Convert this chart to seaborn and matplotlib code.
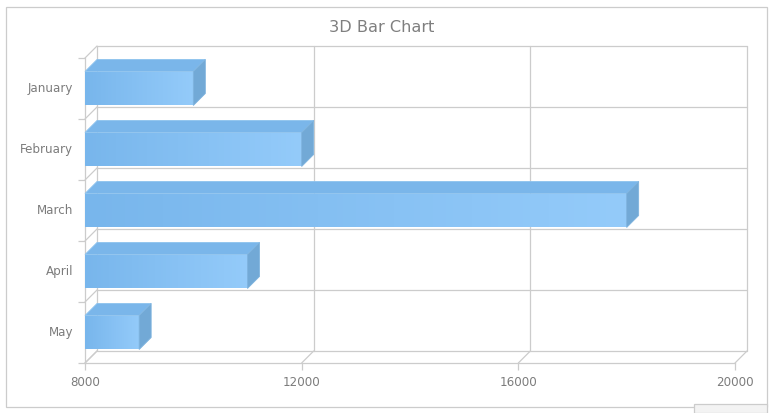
import matplotlib
matplotlib.use('Agg')
import matplotlib.pyplot as plt
from matplotlib.colors import LinearSegmentedColormap
from matplotlib.patches import Polygon, Rectangle
from matplotlib.transforms import offset_copy
import numpy as np
import pandas as pd
import seaborn as sns

months = ['January', 'February', 'March', 'April', 'May']
values = [10000, 12000, 18000, 11000, 9000]
x_ticks = [8000, 12000, 16000, 20000]

W, H = 773, 413
LINE = '#cccccc'
TEXT = '#7c7c7c'

sns.set_style('white')
plt.rcParams['font.family'] = ['DejaVu Sans']

fig = plt.figure(figsize=(W / 100, H / 100), dpi=100)
fig.patch.set_facecolor('white')

# outer frame and the small grey box sticking in at the bottom right
fig.add_artist(Rectangle((5.5 / W, 1 - 407 / H), 761.5 / W, 400.5 / H, transform=fig.transFigure,
                         facecolor='white', edgecolor=LINE, lw=0.9, zorder=-2))
fig.add_artist(Rectangle((694 / W, 0), 73 / W, 9 / H, transform=fig.transFigure,
                         facecolor='#f3f3f3', edgecolor=LINE, lw=0.9, zorder=-1))

ax = fig.add_axes([85 / W, 1 - 363 / H, 650 / W, 305 / H])
ax.patch.set_alpha(0)

df = pd.DataFrame({'month': months, 'value': values})
sns.barplot(data=df, x='value', y='month', orient='h', width=0.557, color='#85c0f2',
            saturation=1, ax=ax, zorder=3)

xmin, xmax = x_ticks[0], x_ticks[-1]
ax.set_xlim(xmin, xmax)
ax.set_ylim(len(months) - 0.5, -0.5)
ax.set_xlabel('')
ax.set_ylabel('')

# depth of the fake 3d box, 12 px each way, in data units
dx = 12 / 650 * (xmax - xmin)
dy = 12 / 61
back = offset_copy(ax.transData, fig=fig, x=12, y=12, units='dots')

# back wall and the diagonals on the floor and left wall
edges = np.arange(len(months) + 1) - 0.5
for y in edges:
    ax.plot([xmin, xmax], [y, y], color=LINE, lw=0.9, transform=back, clip_on=False, zorder=1)
    ax.plot([xmin, xmin + dx], [y, y - dy], color=LINE, lw=0.9, clip_on=False, zorder=1)
for x in x_ticks:
    ax.plot([x, x], [edges[0], edges[-1]], color=LINE, lw=0.9, transform=back, clip_on=False, zorder=1)
    ax.plot([x, x + dx], [edges[-1], edges[-1] - dy], color=LINE, lw=0.9, clip_on=False, zorder=1)

# every bar gets its own gradient, plus a top and a side face
grad = LinearSegmentedColormap.from_list('bar', ['#78b6ec', '#94cbfa'])
for bar in list(ax.patches):
    x0, y0 = bar.get_x(), bar.get_y()
    x1, y1 = x0 + bar.get_width(), y0 + bar.get_height()
    bar.set_x(xmin)
    bar.set_width(x1 - xmin)
    bar.set_edgecolor('none')
    x0 = xmin
    img = ax.imshow(np.linspace(0, 1, 256).reshape(1, -1), cmap=grad, aspect='auto',
                    extent=(x0, x1, y1, y0), zorder=3.5)
    img.set_clip_path(bar)
    ax.add_patch(Polygon([(x0, y0), (x1, y0), (x1 + dx, y0 - dy), (x0 + dx, y0 - dy)],
                         facecolor='#7ab6ea', edgecolor='#8cc2ee', lw=0.6, zorder=4, clip_on=False))
    ax.add_patch(Polygon([(x1, y0), (x1 + dx, y0 - dy), (x1 + dx, y1 - dy), (x1, y1)],
                         facecolor='#72a9d6', edgecolor='#7fb4df', lw=0.6, zorder=4, clip_on=False))

ax.set_xlim(xmin, xmax)
ax.set_ylim(len(months) - 0.5, -0.5)

sns.despine(ax=ax)
ax.spines['left'].set_color(LINE)
ax.spines['bottom'].set_color(LINE)
ax.spines['left'].set_linewidth(0.9)
ax.spines['bottom'].set_linewidth(0.9)

ax.set_xticks(x_ticks)
ax.set_xticklabels([str(t) for t in x_ticks])
ax.tick_params(axis='x', bottom=True, length=5, width=0.9, color=LINE, labelcolor=TEXT, labelsize=8.6, pad=4.2)
ax.set_yticks(range(len(months)))
ax.set_yticklabels(months, va='center')
ax.tick_params(axis='y', which='major', left=False, length=0, labelcolor=TEXT, labelsize=8.6, pad=8.5)
ax.set_yticks(edges, minor=True)
ax.tick_params(axis='y', which='minor', left=True, length=5, width=0.9, color=LINE)

fig.text(382 / W, 1 - 27 / H, '3D Bar Chart', ha='center', va='center', fontsize=11.6, color='#7f7f7f')

fig.savefig('out.png', dpi=100)
plt.close()
